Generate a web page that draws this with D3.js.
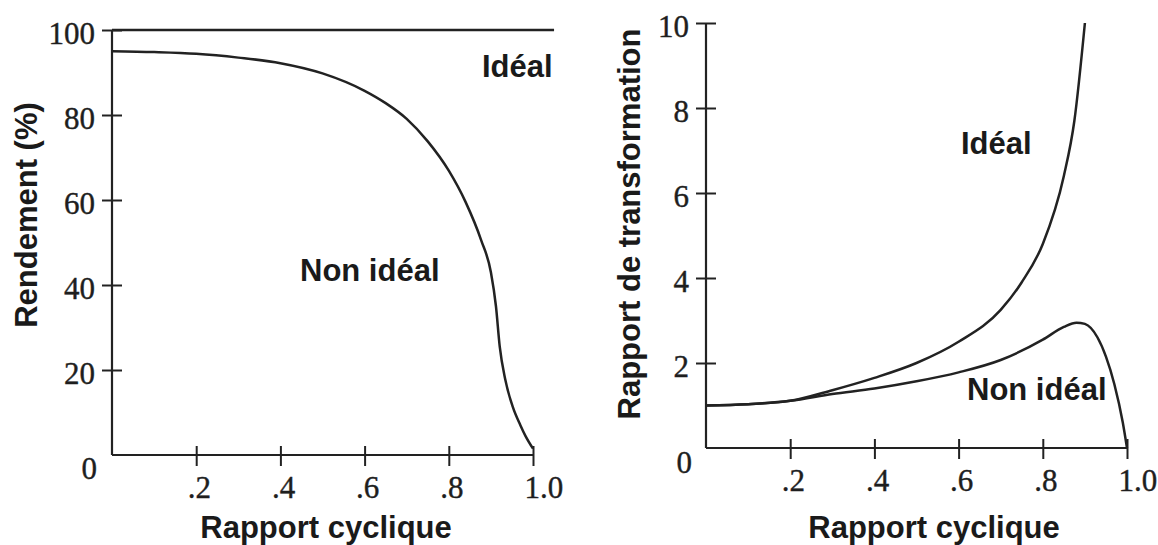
<!DOCTYPE html>
<html><head><meta charset="utf-8">
<script src="https://cdn.jsdelivr.net/npm/d3@7"></script>
<style>
html,body{margin:0;padding:0;background:#fff;}
svg{display:block;}
.tk{font-family:"Liberation Serif","Times New Roman",serif;font-size:31px;fill:#1e1e1e;stroke:#1e1e1e;stroke-width:0.4px;}
.ttl{font-family:"Liberation Sans",Arial,sans-serif;font-weight:bold;font-size:31px;fill:#1a1a1a;}
</style></head><body>
<svg id="c" width="1158" height="545"></svg>
<script>
// ---- Data ----
const xTicks = [0.2, 0.4, 0.6, 0.8, 1.0];
const xTickLabels = [".2", ".4", ".6", ".8", "1.0"];
const effTicks = [20, 40, 60, 80, 100];
const ratioTicks = [2, 4, 6, 8, 10];

// Left: efficiency (%)
const effIdealDuty = [0, 1.05];
const effIdealVal  = [100, 100];
const effRealDuty = [0, 0.1, 0.2, 0.3, 0.4, 0.5, 0.6, 0.65, 0.7, 0.75, 0.8, 0.84, 0.877, 0.9, 0.912, 0.921, 0.934, 0.952, 0.97, 0.982, 1.0];
const effRealVal  = [95, 94.8, 94.4, 93.5, 92.2, 89.8, 85.7, 82.8, 79.1, 73.8, 66.9, 59.5, 50.5, 43, 35, 25.5, 17.8, 11.3, 7, 4.5, 1.5];

// Right: conversion ratio
const ratioIdealDuty = [0, 0.1, 0.2, 0.3, 0.4, 0.5, 0.6, 0.7, 0.75, 0.8, 0.85, 0.875, 0.9];
const ratioIdealVal  = [1.0, 1.03, 1.11, 1.36, 1.65, 2.0, 2.5, 3.25, 3.9, 4.8, 6.4, 7.7, 10];
const ratioRealDuty = [0, 0.1, 0.2, 0.3, 0.4, 0.5, 0.6, 0.7, 0.8, 0.85, 0.88, 0.9, 0.93, 0.95, 0.97, 0.99, 1.0];
const ratioRealVal  = [1.0, 1.03, 1.11, 1.27, 1.4, 1.57, 1.78, 2.07, 2.55, 2.85, 2.95, 2.92, 2.6, 2.15, 1.5, 0.6, 0];

const svg = d3.select("#c");
const ink = "#222";

function panel(cfg){
  const g = svg.append("g");
  const x = d3.scaleLinear().domain([0,1]).range([cfg.x0, cfg.x1]);
  const y = d3.scaleLinear().domain([0,cfg.ymax]).range([cfg.y0, cfg.y1]);

  // y axis
  const ya = g.append("g").attr("transform",`translate(${cfg.x0},0)`)
    .call(d3.axisLeft(y).tickValues(cfg.yTicks).tickSizeOuter(0).tickSize(10).tickFormat(d=>d));
  ya.attr("font-size",null).attr("font-family",null);
  ya.select(".domain").attr("stroke",ink).attr("stroke-width",2.2).attr("d",`M0,${cfg.y0}V${cfg.y1}`);
  ya.selectAll(".tick line").attr("x1",10).attr("x2",-10).attr("stroke",ink).attr("stroke-width",2);
  ya.selectAll(".tick text").attr("class","tk").attr("x",-17).attr("dy","0.45em").attr("fill",null);

  // x axis
  const xa = g.append("g").attr("transform",`translate(0,${cfg.y0})`)
    .call(d3.axisBottom(x).tickValues(xTicks).tickSizeOuter(0).tickSize(10).tickFormat((d,i)=>xTickLabels[i]));
  xa.attr("font-size",null).attr("font-family",null);
  xa.select(".domain").attr("stroke",ink).attr("stroke-width",2.2).attr("d",`M${cfg.x0},0H${cfg.x1}`);
  xa.selectAll(".tick line").attr("y1",-9).attr("y2",11).attr("stroke",ink).attr("stroke-width",2);
  xa.selectAll(".tick text").attr("class","tk").attr("text-anchor","start").attr("x",-9).attr("y",cfg.xLabDy).attr("dy",null).attr("fill",null);

  // corner 0
  g.append("text").attr("class","tk").attr("text-anchor","end")
    .attr("x",cfg.x0-cfg.zeroDx).attr("y",y(0)+cfg.zeroDy).text("0");

  const line = d3.line().x(d=>x(d[0])).y(d=>y(d[1])).curve(d3.curveMonotoneX);
  cfg.series.forEach(s=>{
    g.append("path").datum(d3.zip(s.d, s.v)).attr("d",line)
      .attr("fill","none").attr("stroke",ink).attr("stroke-width",2.5).attr("stroke-linejoin","round");
  });
  cfg.labels.forEach(l=>{
    g.append("text").attr("class","ttl").attr("x",l.x).attr("y",l.y).text(l.t);
  });
  // axis titles
  g.append("text").attr("class","ttl").attr("text-anchor","middle")
    .attr("x",cfg.xtX).attr("y",538).text("Rapport cyclique");
  g.append("text").attr("class","ttl").attr("text-anchor","middle")
    .attr("transform",`translate(${cfg.ytX},${cfg.ytY}) rotate(-90)`).text(cfg.yTitle);
}

panel({x0:112, x1:533, y0:455, y1:30, ymax:100, yTicks:effTicks, xLabDy:43, zeroDx:15, zeroDy:24,
  series:[{d:effIdealDuty,v:effIdealVal},{d:effRealDuty,v:effRealVal}],
  labels:[{x:482,y:77,t:"Idéal"},{x:300,y:281,t:"Non idéal"}],
  xtX:326, ytX:37, ytY:215, yTitle:"Rendement (%)"});

panel({x0:706, x1:1127, y0:448, y1:23, ymax:10, yTicks:ratioTicks, xLabDy:43, zeroDx:14, zeroDy:25,
  series:[{d:ratioIdealDuty,v:ratioIdealVal},{d:ratioRealDuty,v:ratioRealVal}],
  labels:[{x:961,y:154,t:"Idéal"},{x:967,y:400,t:"Non idéal"}],
  xtX:934, ytX:640, ytY:224, yTitle:"Rapport de transformation"});
</script>
</body></html>
